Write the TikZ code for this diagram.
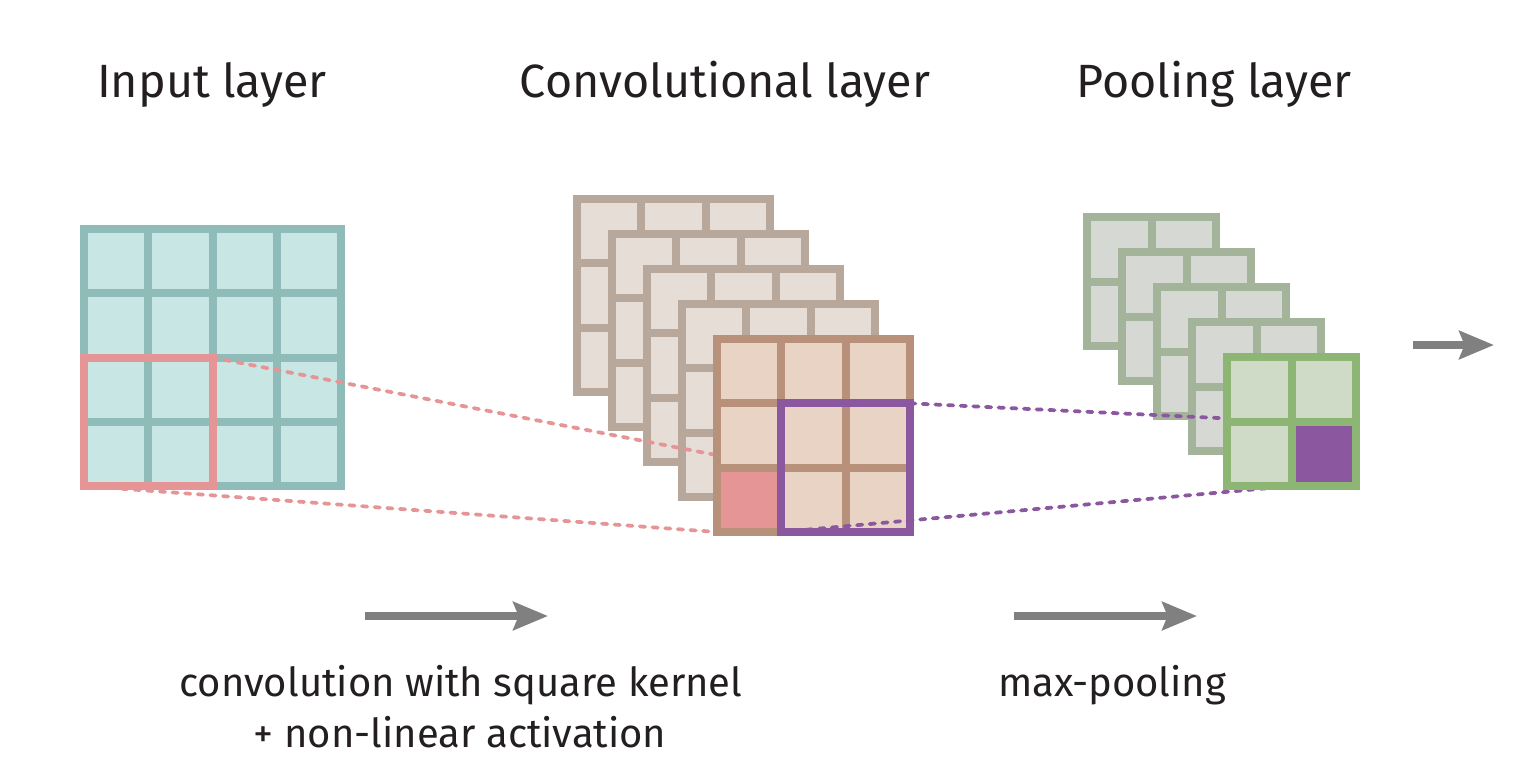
\documentclass[tikz,border=0pt]{standalone}
\usepackage{xcolor}
\usepackage{fontspec}
\setmainfont{Fira Sans}
\usepackage{tikz}
\usetikzlibrary{arrows.meta}

\definecolor{inFill}{HTML}{C8E7E4}
\definecolor{inLine}{HTML}{8FBBB8}
\definecolor{kernRed}{HTML}{E59595}
\definecolor{cvBackFill}{HTML}{E6DDD6}
\definecolor{cvBackLine}{HTML}{B8A89B}
\definecolor{cvFrontFill}{HTML}{E8D3C4}
\definecolor{cvFrontLine}{HTML}{B8917A}
\definecolor{poolPurple}{HTML}{8B58A0}
\definecolor{plBackFill}{HTML}{D6D8D3}
\definecolor{plBackLine}{HTML}{A4B49B}
\definecolor{plFrontFill}{HTML}{CFDBC7}
\definecolor{plFrontLine}{HTML}{8DB573}
\definecolor{flowGrey}{HTML}{808080}
\definecolor{labelInk}{HTML}{231F20}

\tikzset{
  gridline/.style={line width=6pt},
  window/.style={line width=6pt},
  link/.style={line width=2.8pt, line cap=round, dash pattern=on 4pt off 5.5pt},
  flow/.style={draw=flowGrey, line width=6pt, -{Stealth[length=26pt,width=21pt,inset=4pt]}},
  caption/.style={text=labelInk, inner sep=0.75pt, anchor=base, font=\fontsize{35}{42}\selectfont},
  note/.style={caption, font=\fontsize{30}{36}\selectfont},
}

% feature map: x, y, cells, cell size, fill, line colour
\newcommand{\featmap}[6]{%
  \fill[#5] (#1,#2) rectangle (#1+#3*#4,#2+#3*#4);
  \pgfmathtruncatemacro{\fmlast}{#3-1}
  \foreach \k in {1,...,\fmlast}{
    \draw[gridline,#6] (#1+\k*#4,#2) -- (#1+\k*#4,#2+#3*#4);
    \draw[gridline,#6] (#1,#2+\k*#4) -- (#1+#3*#4,#2+\k*#4);
  }
  \draw[gridline,#6] (#1,#2) rectangle (#1+#3*#4,#2+#3*#4);
}

\begin{document}
\begin{tikzpicture}[x=0.75pt,y=0.75pt,yscale=-1,xscale=1]
        \useasboundingbox (0,0) rectangle (1523,782);

        %Shape: Input grid
        \featmap{84}{229}{4}{64.25}{inFill}{inLine}
        %Shape: Kernel window
        \draw[window,kernRed] (84,357.5) rectangle (212.5,486);
        \coordinate (inRedNE) at (212.5,357.5);
        \coordinate (inRedSW) at (84,486);

        %Shape: Convolutional stack, back maps
        \foreach \s in {4,3,2,1}{
          \featmap{717-35*\s}{339-35*\s}{3}{64.333}{cvBackFill}{cvBackLine}
        }
        \coordinate (cvRedNE) at (781.33,467.67);
        \coordinate (cvRedSW) at (717,532);

        %Shape: Kernel links
        \draw[link,kernRed] (inRedNE) -- (cvRedNE);
        \draw[link,kernRed] (inRedSW) -- (cvRedSW);

        %Shape: Convolutional front map
        \featmap{717}{339}{3}{64.333}{cvFrontFill}{cvFrontLine}
        \fill[kernRed] (721,471.67) rectangle (777.33,528);
        \draw[window,poolPurple] (781.33,403.33) rectangle (910,532);
        \coordinate (cvPurNE) at (910,403.33);
        \coordinate (cvPurSW) at (781.33,532);

        %Shape: Pooling stack, back maps
        \foreach \s in {4,3,2,1}{
          \featmap{1227-35*\s}{357-35*\s}{2}{64.5}{plBackFill}{plBackLine}
        }
        \coordinate (plPurNW) at (1291.5,421.5);
        \coordinate (plPurSW) at (1291.5,486);

        %Shape: Pooling links
        \draw[link,poolPurple] (cvPurNE) -- (plPurNW);
        \draw[link,poolPurple] (cvPurSW) -- (plPurSW);

        %Shape: Pooling front map
        \featmap{1227}{357}{2}{64.5}{plFrontFill}{plFrontLine}
        \fill[poolPurple] (1295.5,425.5) rectangle (1352,482);

        %Shape: Flow arrows
        \coordinate (convFrom) at (365,616);
        \coordinate (convTo) at (548,616);
        \coordinate (poolFrom) at (1014,616);
        \coordinate (poolTo) at (1197,616);
        \coordinate (outFrom) at (1413,345);
        \coordinate (outTo) at (1494,345);
        \draw[flow] (convFrom) -- (convTo);
        \draw[flow] (poolFrom) -- (poolTo);
        \draw[flow] (outFrom) -- (outTo);

        % Text Node
        \draw (212,97) node (inLabel) [caption] {Input layer};
        % Text Node
        \draw (725,97) node (cvLabel) [caption] {Convolutional layer};
        % Text Node
        \draw (1214,97) node (plLabel) [caption] {Pooling layer};
        % Text Node
        \draw (461,696) node (convNoteA) [note] {convolution with square kernel};
        % Text Node
        \draw (460,747) node (convNoteB) [note] {+ non-linear activation};
        % Text Node
        \draw (1112,696) node (poolNote) [note] {max-pooling};
\end{tikzpicture}
\end{document}
